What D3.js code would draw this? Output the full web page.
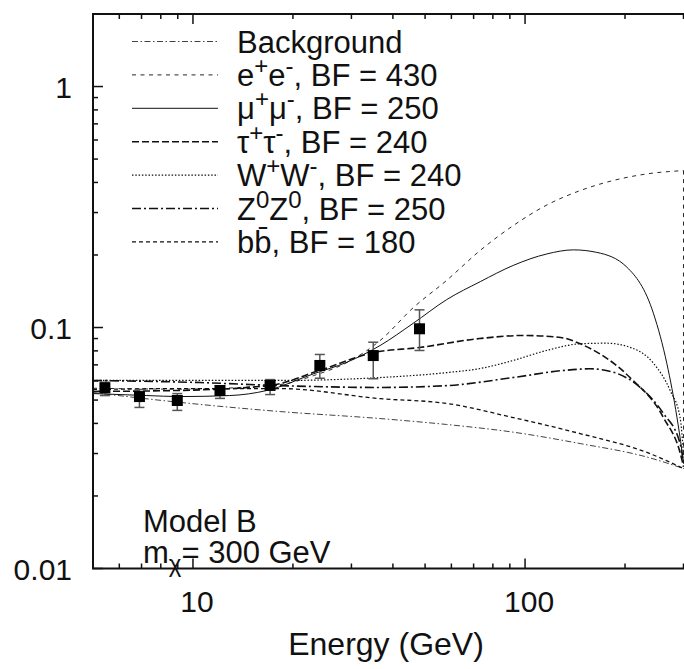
<!DOCTYPE html>
<html>
<head>
<meta charset="utf-8">
<script src="https://cdn.jsdelivr.net/npm/d3@7"></script>
<style>
  html, body { margin: 0; padding: 0; background: #fff; }
  svg { display: block; }
  text { font-family: "Liberation Sans", Arial, Helvetica, sans-serif; fill: #111; }
</style>
</head>
<body>
<svg id="chart" width="684" height="669"></svg>
<script>
// ---- data: positron fraction vs energy, Model B, m_chi = 300 GeV ----
const bgE   = [5, 9.14, 18.3, 36.6, 58, 92, 146.5, 233, 300];
const bgV   = [0.0537, 0.0489, 0.0448, 0.0419, 0.0396, 0.0368, 0.0330, 0.0290, 0.0260];

const eeE   = [5, 9.14, 18.3, 23.1, 29.1, 36.6, 46.1, 58.1, 73.3, 92.2, 115.6, 146.5, 183.7, 232.8, 300];
const eeV   = [0.056, 0.0555, 0.058, 0.0632, 0.0716, 0.0883, 0.121, 0.157, 0.209, 0.265, 0.321, 0.370, 0.407, 0.434, 0.448];
const eeEndV = 0.026;   // spectrum cuts off at the WIMP mass

const mumuE = [5, 7.26, 9.14, 12.9, 16.7, 23.1, 29.1, 36.6, 46, 58.1, 73.3, 92.1, 116.3, 139.9, 164.5, 202.6, 243.8, 267.4, 286.6, 296.6, 300];
const mumuV = [0.0532, 0.0522, 0.0517, 0.0522, 0.0548, 0.0643, 0.0718, 0.0842, 0.104, 0.1306, 0.155, 0.181, 0.202, 0.210, 0.205, 0.178, 0.114, 0.0707, 0.0425, 0.0309, 0.0273];

const tautauE = [5, 9, 17, 24, 35, 48, 73, 99, 128, 146, 207, 261, 297, 300];
const tautauV = [0.0543, 0.0548, 0.0574, 0.0663, 0.0787, 0.0826, 0.090, 0.0927, 0.0909, 0.0858, 0.062, 0.0423, 0.0281, 0.0264];

const wwE   = [5, 18.3, 36.6, 58.1, 73.3, 92.1, 116, 146.5, 176, 207, 244, 273.5, 293, 300];
const wwV   = [0.0603, 0.0603, 0.062, 0.065, 0.0676, 0.073, 0.0803, 0.0856, 0.0861, 0.0828, 0.0709, 0.0548, 0.0423, 0.030];

const zzE   = [5, 10.5, 18.3, 36.6, 58.1, 92.1, 130, 157, 184, 222, 261, 293, 300];
const zzV   = [0.0603, 0.0591, 0.0574, 0.0564, 0.0574, 0.062, 0.0663, 0.0674, 0.0653, 0.0565, 0.044, 0.033, 0.0275];

const bbE   = [5, 9.14, 18.3, 36.6, 58.1, 92.1, 146.5, 233, 300];
const bbV   = [0.0553, 0.0558, 0.0558, 0.0507, 0.0484, 0.0423, 0.0363, 0.0303, 0.026];

// measured points with error bars
const dataE  = [5.43, 6.90, 8.97, 12.06, 17.07, 24.1, 34.9, 48.1];
const dataV  = [0.0562, 0.0517, 0.0498, 0.0548, 0.0575, 0.0696, 0.0765, 0.0988];
const dataLo = [0.0522, 0.0466, 0.0453, 0.0508, 0.0527, 0.0616, 0.0613, 0.0803];
const dataHi = [0.0593, 0.0553, 0.0532, 0.0569, 0.0608, 0.0773, 0.0869, 0.1184];

const xTickLabels = [10, 100];
const yTickLabels = [0.01, 0.1, 1];

// ---- layout ----
const svg = d3.select("#chart");
const mLeft = 93, mRight = 683.5, mTop = 14, mBottom = 568.5;

const x = d3.scaleLog().domain([5, 300]).range([mLeft, mRight]);
const y = d3.scaleLog().domain([0.01, 2]).range([mBottom, mTop]);

// ---- axes: ticks on all inner sides, labels bottom/left ----
const xMinor = [];
for (let d = 1; d <= 100; d *= 10) for (let m = 1; m <= 9; m++) {
  const v = m * d; if (v >= 5 && v <= 300) xMinor.push(v);
}
const yMinor = [];
for (let d = 0.01; d <= 1.01; d *= 10) for (let m = 1; m <= 9; m++) {
  const v = +(m * d).toPrecision(3); if (v >= 0.01 && v <= 2) yMinor.push(v);
}
const isMajor = v => Math.abs(Math.log10(v) - Math.round(Math.log10(v))) < 1e-6;

const ax = svg.append("g").attr("stroke", "#111");
xMinor.forEach(v => {
  const len = isMajor(v) ? 10 : 5, px = x(v);
  ax.append("line").attr("x1", px).attr("x2", px).attr("y1", mBottom).attr("y2", mBottom - len).attr("stroke-width", 1.5);
  ax.append("line").attr("x1", px).attr("x2", px).attr("y1", mTop).attr("y2", mTop + len).attr("stroke-width", 1.5);
});
yMinor.forEach(v => {
  const len = isMajor(v) ? 10 : 5, py = y(v);
  ax.append("line").attr("x1", mLeft).attr("x2", mLeft + len).attr("y1", py).attr("y2", py).attr("stroke-width", 1.5);
});
svg.append("path")
  .attr("d", `M${mRight + 2},${mTop}H${mLeft}V${mBottom}H${mRight + 2}`)
  .attr("fill", "none").attr("stroke", "#111").attr("stroke-width", 2);

svg.append("g").selectAll("text").data(xTickLabels).join("text")
  .attr("x", d => x(d) + 4).attr("y", 612)
  .attr("text-anchor", "middle").attr("font-size", 30).text(d => d);
svg.append("g").selectAll("text").data(yTickLabels).join("text")
  .attr("x", 72).attr("y", d => y(d) + 11)
  .attr("text-anchor", "end").attr("font-size", 30).text(d => d);

svg.append("text").attr("x", 386).attr("y", 655).attr("text-anchor", "middle")
  .attr("font-size", 32).text("Energy (GeV)");

// ---- curves ----
const styles = {
  bg:  { w: 0.8, dash: "6,2.5,1.5,2.5" },
  ee:  { w: 0.9, dash: "4,4.5" },
  mu:  { w: 1.0, dash: null },
  tau: { w: 1.6, dash: "7,3" },
  ww:  { w: 1.2, dash: "1.5,1.8" },
  zz:  { w: 1.6, dash: "9,3,2,3" },
  bb:  { w: 1.3, dash: "4,3" }
};
const series = [
  { key: "bg",  E: bgE,     V: bgV },
  { key: "bb",  E: bbE,     V: bbV },
  { key: "zz",  E: zzE,     V: zzV },
  { key: "ww",  E: wwE,     V: wwV },
  { key: "tau", E: tautauE, V: tautauV },
  { key: "mu",  E: mumuE,   V: mumuV },
  { key: "ee",  E: eeE,     V: eeV }
];
const line = d3.line().x(d => x(d[0])).y(d => y(d[1])).curve(d3.curveMonotoneX);
const plot = svg.append("g");
series.forEach(s => {
  const st = styles[s.key];
  plot.append("path")
    .attr("d", line(s.E.map((e, i) => [e, s.V[i]])))
    .attr("fill", "none").attr("stroke", "#111")
    .attr("stroke-width", st.w)
    .attr("stroke-dasharray", st.dash);
});
// e+e- cutoff drop at the end point
plot.append("line")
  .attr("x1", x(eeE[eeE.length - 1])).attr("x2", x(eeE[eeE.length - 1]))
  .attr("y1", y(eeV[eeV.length - 1])).attr("y2", y(eeEndV))
  .attr("stroke", "#111").attr("stroke-width", styles.ee.w)
  .attr("stroke-dasharray", styles.ee.dash);

// ---- measured points ----
const pts = svg.append("g");
dataE.forEach((e, i) => {
  const px = x(e);
  pts.append("line").attr("x1", px).attr("x2", px).attr("y1", y(dataLo[i])).attr("y2", y(dataHi[i]))
    .attr("stroke", "#555").attr("stroke-width", 1.5);
  [dataLo[i], dataHi[i]].forEach(v => pts.append("line")
    .attr("x1", px - 5).attr("x2", px + 5).attr("y1", y(v)).attr("y2", y(v))
    .attr("stroke", "#555").attr("stroke-width", 1.5));
  pts.append("rect").attr("x", px - 5.5).attr("y", y(dataV[i]) - 5.5)
    .attr("width", 11).attr("height", 11).attr("fill", "#000");
});

// ---- legend ----
const legend = [
  { key: "bg",  parts: [["Background"]] },
  { key: "ee",  parts: [["e"], ["+", "sup"], ["e"], ["-", "sup"], [", BF = 430"]] },
  { key: "mu",  parts: [["\u03bc"], ["+", "sup"], ["\u03bc"], ["-", "sup"], [", BF = 250"]] },
  { key: "tau", parts: [["\u03c4"], ["+", "sup"], ["\u03c4"], ["-", "sup"], [", BF = 240"]] },
  { key: "ww",  parts: [["W"], ["+", "sup"], ["W"], ["-", "sup"], [", BF = 240"]] },
  { key: "zz",  parts: [["Z"], ["0", "sup"], ["Z"], ["0", "sup"], [", BF = 250"]] },
  { key: "bb",  parts: [["bb\u0304, BF = 180"]] }
];
const lg = svg.append("g");
legend.forEach((item, i) => {
  const ly = 41.5 + i * 33.4;
  const st = styles[item.key];
  lg.append("line").attr("x1", 132).attr("x2", 218).attr("y1", ly).attr("y2", ly)
    .attr("stroke", "#111").attr("stroke-width", st.w).attr("stroke-dasharray", st.dash);
  const t = lg.append("text").attr("x", 237).attr("y", ly + 11).attr("font-size", 31);
  let raised = false;
  item.parts.forEach(([s, kind]) => {
    const ts = t.append("tspan").text(s);
    if (kind === "sup") { ts.attr("dy", -12).attr("font-size", 24); raised = true; }
    else if (raised) { ts.attr("dy", 12); raised = false; }
  });
});

// ---- model annotation ----
svg.append("text").attr("x", 143).attr("y", 532).attr("font-size", 31).text("Model B");
const mt = svg.append("text").attr("x", 143).attr("y", 563).attr("font-size", 31);
mt.append("tspan").text("m");
mt.append("tspan").attr("dy", 9).attr("font-size", 24).text("\u03c7");
mt.append("tspan").attr("dy", -9).text("=  300 GeV");
</script>
</body>
</html>
